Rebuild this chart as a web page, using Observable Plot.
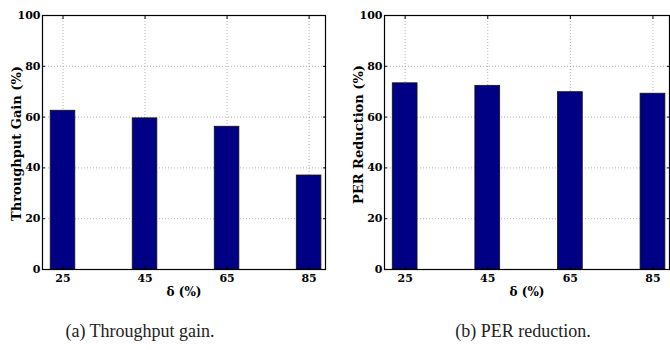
<!DOCTYPE html>
<html>
<head>
<meta charset="utf-8">
<script src="https://cdn.jsdelivr.net/npm/d3@7"></script>
<script src="https://cdn.jsdelivr.net/npm/@observablehq/plot@0.6"></script>
<style>
  html, body { margin: 0; padding: 0; background: white; }
  #wrap { position: relative; width: 670px; height: 350px; overflow: hidden; background: white; }
  .panel { position: absolute; top: 0; }
  .cap { position: absolute; top: 321px; width: 240px; text-align: center;
         font-family: "Liberation Serif", serif; font-size: 18px; line-height: 20px; color: #222; }
</style>
</head>
<body>
<div id="wrap">
  <div class="panel" id="pa" style="left:0"></div>
  <div class="panel" id="pb" style="left:335px"></div>
  <div class="cap" style="left:20px">(a) Throughput gain.</div>
  <div class="cap" style="left:403px">(b) PER reduction.</div>
</div>
<script>
const deltas = [25, 45, 65, 85];
const throughputGain = [62.5, 59.5, 56.2, 37.0];
const perReduction = [73.3, 72.3, 69.8, 69.2];
const yTicks = [0, 20, 40, 60, 80, 100];
const yGrid = [20, 40, 60, 80];
const xLabel = "δ (%)";

function panel({values, ylabel, marginLeft, marginRight, labelDy}) {
  const data = deltas.map((d, i) => ({delta: d, value: values[i]}));
  const gridStyle = {stroke: "#a0a0a0", strokeOpacity: 1, strokeWidth: 0.8, strokeDasharray: "1,2"};
  return Plot.plot({
    width: 335, height: 300,
    marginLeft, marginRight, marginTop: 15, marginBottom: 31,
    style: {fontFamily: "DejaVu Serif", fontWeight: "bold", fontSize: "11px", color: "black", background: "white", overflow: "visible"},
    x: {type: "linear", domain: [20, 89]},
    y: {domain: [0, 100]},
    marks: [
      Plot.gridX(deltas, gridStyle),
      Plot.gridY(yGrid, gridStyle),
      Plot.rectY(data, {x1: d => d.delta - 3, x2: d => d.delta + 3, y: "value", fill: "#000084", stroke: "#111", strokeWidth: 0.8}),
      Plot.axisX(deltas, {tickSize: 0, tickPadding: 5, label: null}),
      Plot.axisX(deltas, {tickSize: -3, text: null, label: null}),
      Plot.axisX(deltas, {anchor: "top", tickSize: -3, text: null, label: null}),
      Plot.axisY(yTicks, {tickSize: 0, tickPadding: 2, label: null}),
      Plot.axisY(yTicks, {tickSize: -3, text: null, label: null}),
      Plot.axisY(yTicks, {anchor: "right", tickSize: -3, text: null, label: null}),
      Plot.frame({stroke: "black", strokeWidth: 1.2}),
      Plot.text([ylabel], {frameAnchor: "left", rotate: -90, textAnchor: "middle", lineAnchor: "middle", dx: -26, dy: labelDy, fontSize: 13, fontWeight: "bold", fill: "black"}),
      Plot.text([xLabel], {frameAnchor: "bottom", textAnchor: "middle", lineAnchor: "middle", dy: 23, fontSize: 12, fontWeight: "bold", fill: "black"})
    ]
  });
}

document.getElementById("pa").append(panel({values: throughputGain, ylabel: "Throughput Gain (%)", marginLeft: 42, marginRight: 10, labelDy: 1}));
document.getElementById("pb").append(panel({values: perReduction, ylabel: "PER Reduction (%)", marginLeft: 49, marginRight: 1, labelDy: -8}));
</script>
</body>
</html>
